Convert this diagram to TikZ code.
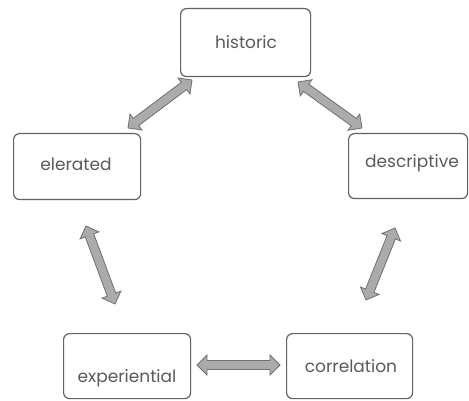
\documentclass[tikz,border=0pt]{standalone}
\usepackage{fontspec}
\setmainfont{Poppins}
\usetikzlibrary{calc}
\definecolor{boxline}{HTML}{626262}
\definecolor{arrfill}{HTML}{ABABAB}
\definecolor{arrline}{HTML}{707070}
\definecolor{txtcol}{HTML}{5A5A5A}
\newcommand\barrow[2]{%
  \pgfpointdiff{\pgfpointanchor{#1}{center}}{\pgfpointanchor{#2}{center}}%
  \pgfgetlastxy{\bdx}{\bdy}%
  \pgfmathsetmacro\bang{atan2(\bdy,\bdx)}%
  \pgfmathsetmacro\blen{veclen(\bdx,\bdy)}%
  \begin{scope}[shift={(#1)},rotate=\bang]
    \draw[blk] (0,0) -- (10,10) -- (10,4.5) -- (\blen-10,4.5) -- (\blen-10,10)
      -- (\blen,0) -- (\blen-10,-10) -- (\blen-10,-4.5) -- (10,-4.5) -- (10,-10) -- cycle;
  \end{scope}}
\tikzset{
  box/.style={draw=boxline, line width=1.2pt, rounded corners=6pt, fill=white,
    inner sep=0pt, anchor=north west},
  lbl/.style={text=txtcol, font=\fontsize{17}{19}\selectfont, inner sep=0pt},
  blk/.style={fill=arrfill, draw=arrline, line width=0.8pt, line join=miter},
}
\begin{document}
\begin{tikzpicture}[x=1pt,y=-1pt]
\useasboundingbox (0,0) rectangle (469,401);
% boxes
\node[box, minimum width=130pt, minimum height=68pt] (h) at (180,8) {};
\node[box, minimum width=127pt, minimum height=66pt] (e) at (13,133) {};
\node[box, minimum width=119pt, minimum height=65pt] (d) at (348,133) {};
\node[box, minimum width=127pt, minimum height=65pt] (x) at (63,333) {};
\node[box, minimum width=126pt, minimum height=65pt] (c) at (286,333) {};
% labels
\node[lbl] (ht) at (246,42) {historic};
\node[lbl] (et) at (76,164) {elerated};
\node[lbl] (dt) at (412,163) {descriptive};
\node[lbl] (xt) at (127,378) {experiential};
\node[lbl] (ct) at (351,366) {correlation};
% arrow end points
\coordinate (a1s) at (128,128); \coordinate (a1e) at (192,80);
\coordinate (a2s) at (298,82);  \coordinate (a2e) at (362,128);
\coordinate (a3s) at (86,226);  \coordinate (a3e) at (115,304);
\coordinate (a4s) at (395,228); \coordinate (a4e) at (366,300);
\coordinate (a5s) at (197,365); \coordinate (a5e) at (280,365);
\barrow{a1s}{a1e}
\barrow{a2s}{a2e}
\barrow{a3s}{a3e}
\barrow{a4s}{a4e}
\barrow{a5s}{a5e}
\end{tikzpicture}
\end{document}
